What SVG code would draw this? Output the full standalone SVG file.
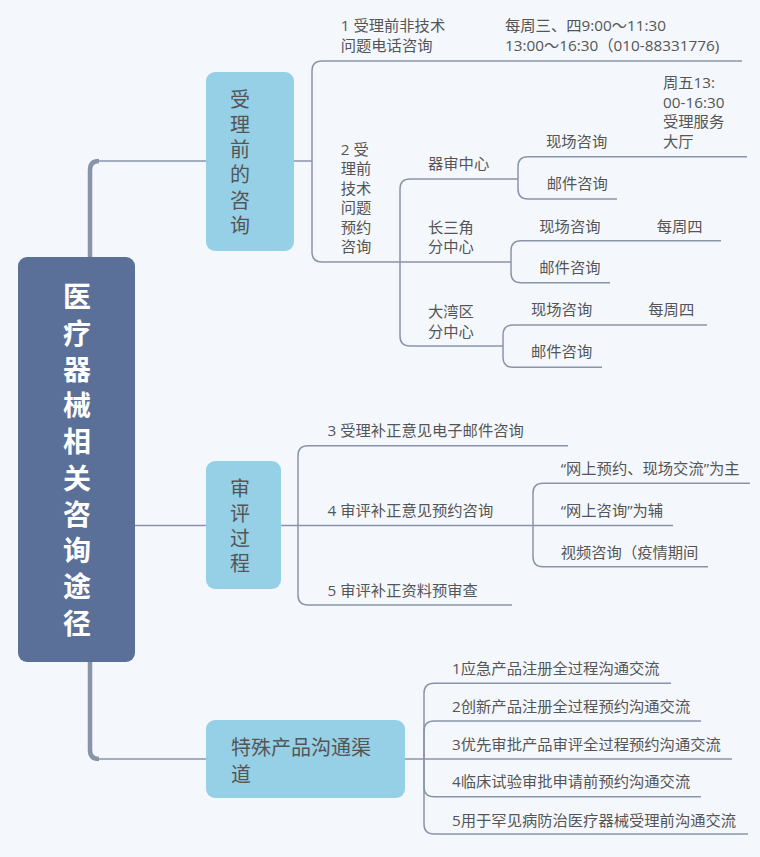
<svg xmlns="http://www.w3.org/2000/svg" width="760" height="857" viewBox="0 0 760 857">
<style>
.c{fill:none;stroke:#8a94a9;stroke-width:1.5}
.t{stroke:#8a94a9;stroke-width:4.5;fill:none}
.l{font-family:"Open Sans","Noto Sans CJK SC",sans-serif;font-size:15.3px;fill:#555}
.n{font-family:"Noto Sans CJK SC",sans-serif;font-size:20px;fill:#555}
.v{writing-mode:vertical-rl;text-orientation:upright}
.r{font-family:"Noto Sans CJK SC",sans-serif;font-size:28px;font-weight:bold;fill:#fff}
.nb{fill:#95d0e6}
</style>
<rect width="760" height="857" fill="#f4f8fd"/>
<g id="connectors">
<path class="t" d="M90,257 V170 Q90,161 99,161"/>
<path class="c" d="M98,161 H206"/>
<path class="c" d="M135,525.5 H206"/>
<path class="t" d="M90,662 V750 Q90,759 99,759"/>
<path class="c" d="M98,759 H206"/>
<path class="c" d="M294,161 H312"/>
<path class="c" d="M312,161 V71 Q312,61 322,61 H742"/>
<path class="c" d="M312,161 V252 Q312,262 322,262 H400"/>
<path class="c" d="M400,262 V189 Q400,179 410,179 H518"/>
<path class="c" d="M400,262 H511"/>
<path class="c" d="M400,262 V336 Q400,346 410,346 H503"/>
<path class="c" d="M518,179 V166.7 Q518,156.7 528,156.7 H747"/>
<path class="c" d="M518,179 V189 Q518,199 528,199 H617"/>
<path class="c" d="M511,262 V250.7 Q511,240.7 521,240.7 H721"/>
<path class="c" d="M511,262 V272.7 Q511,282.7 521,282.7 H610"/>
<path class="c" d="M503,346 V335 Q503,325 513,325 H707"/>
<path class="c" d="M503,346 V357.3 Q503,367.3 513,367.3 H602"/>
<path class="c" d="M281,525.5 H298"/>
<path class="c" d="M298,525.5 V455.7 Q298,445.7 308,445.7 H568"/>
<path class="c" d="M298,525.5 H533"/>
<path class="c" d="M298,525.5 V595 Q298,605 308,605 H512"/>
<path class="c" d="M533,525.5 V493.3 Q533,483.3 543,483.3 H750"/>
<path class="c" d="M533,525.5 H673"/>
<path class="c" d="M533,525.5 V556.7 Q533,566.7 543,566.7 H708"/>
<path class="c" d="M405,759 H424"/>
<path class="c" d="M424,759 V693.3 Q424,683.3 434,683.3 H671"/>
<path class="c" d="M424,759 V731 Q424,721 434,721 H701"/>
<path class="c" d="M424,759 H732"/>
<path class="c" d="M424,759 V786.7 Q424,796.7 434,796.7 H701"/>
<path class="c" d="M424,759 V824 Q424,834 434,834 H748"/>
</g>
<g id="root">
<rect x="18" y="257" width="117" height="405" rx="9" fill="#5b7099"/>
<text class="r v" x="77" y="282.7" letter-spacing="8.25">医疗器械相关咨询途径</text>
</g>
<g id="node-shouli">
<rect class="nb" x="206" y="72" width="88" height="179" rx="9"/>
<text class="n v" x="240" y="89" letter-spacing="5.3">受理前的咨询</text>
</g>
<g id="node-shenping">
<rect class="nb" x="206" y="461" width="75" height="128" rx="9"/>
<text class="n v" x="240" y="478" letter-spacing="5">审评过程</text>
</g>
<g id="node-teshu">
<rect class="nb" x="206" y="720" width="199" height="78" rx="9"/>
<text class="n"><tspan x="231" y="755.3">特殊产品沟通渠</tspan><tspan x="231" y="782">道</tspan></text>
</g>
<g id="item1">
<text class="l"><tspan x="340.7" y="30.5">1 受理前非技术</tspan><tspan x="340.7" y="50.5">问题电话咨询</tspan></text>
<text class="l"><tspan x="505" y="30.5">每周三、四9:00～11:30</tspan><tspan x="505" y="50.5">13:00～16:30（010-88331776)</tspan></text>
</g>
<g id="item2">
<text class="l"><tspan x="340.7" y="154.5">2 受</tspan><tspan x="340.7" y="174">理前</tspan><tspan x="340.7" y="193.5">技术</tspan><tspan x="340.7" y="213">问题</tspan><tspan x="340.7" y="232.5">预约</tspan><tspan x="340.7" y="252">咨询</tspan></text>
</g>
<g id="qishen">
<text class="l" x="428" y="168.5">器审中心</text>
<text class="l" x="546" y="147">现场咨询</text>
<text class="l"><tspan x="663" y="88.2">周五13:</tspan><tspan x="663" y="107.8">00-16:30</tspan><tspan x="663" y="127.4">受理服务</tspan><tspan x="663" y="147">大厅</tspan></text>
<text class="l" x="546.7" y="189">邮件咨询</text>
</g>
<g id="changsanjiao">
<text class="l"><tspan x="428" y="233">长三角</tspan><tspan x="428" y="252.3">分中心</tspan></text>
<text class="l" x="539.3" y="231.5">现场咨询</text>
<text class="l" x="656.7" y="231.5">每周四</text>
<text class="l" x="539.3" y="273">邮件咨询</text>
</g>
<g id="dawanqu">
<text class="l"><tspan x="428" y="317">大湾区</tspan><tspan x="428" y="336.7">分中心</tspan></text>
<text class="l" x="531" y="315">现场咨询</text>
<text class="l" x="648.3" y="315">每周四</text>
<text class="l" x="531" y="356.5">邮件咨询</text>
</g>
<g id="review-items">
<text class="l" x="327.5" y="436.3">3 受理补正意见电子邮件咨询</text>
<text class="l" x="327.5" y="515.5">4 审评补正意见预约咨询</text>
<text class="l" x="327.5" y="595.5">5 审评补正资料预审查</text>
<text class="l" x="560.7" y="474">“网上预约、现场交流”为主</text>
<text class="l" x="560.7" y="515.5">“网上咨询”为辅</text>
<text class="l" x="560.7" y="558.3">视频咨询（疫情期间</text>
</g>
<g id="special-items">
<text class="l" x="452" y="674">1应急产品注册全过程沟通交流</text>
<text class="l" x="452" y="712.3">2创新产品注册全过程预约沟通交流</text>
<text class="l" x="452" y="750">3优先审批产品审评全过程预约沟通交流</text>
<text class="l" x="452" y="787.3">4临床试验审批申请前预约沟通交流</text>
<text class="l" x="452" y="825.5">5用于罕见病防治医疗器械受理前沟通交流</text>
</g>
</svg>
